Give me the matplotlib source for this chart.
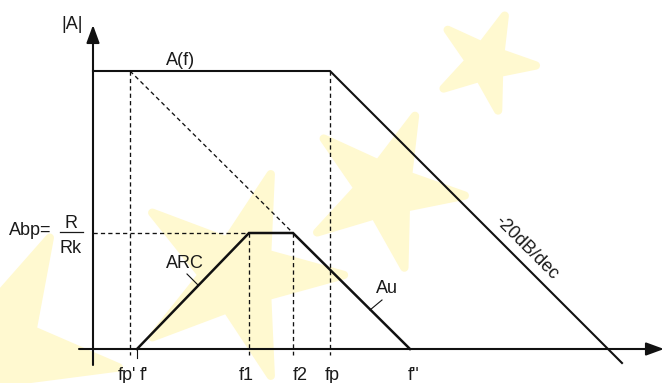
import numpy as np
import matplotlib
matplotlib.use("Agg")
import matplotlib.pyplot as plt
from matplotlib.patches import Polygon

plt.rcParams['font.family'] = ['Liberation Sans', 'DejaVu Sans']

# Characteristic frequencies on the (schematic, log-like) frequency axis
freq_names = ["fp'", "f'", "f1", "f2", "fp", "f''"]
freq_pos = [130, 137, 249, 293, 330, 410]
label_shift = [-3, 7, -3, 7, 2, 4]

# Gain levels
gain_A0 = 278      # open-loop gain |A| in the pass band
gain_bp = 116      # band-pass gain Abp = R/Rk

# Open-loop response A(f): flat up to fp, then -20 dB/dec
af_x = [93, 330, 622]
af_y = [gain_A0, gain_A0, -14]

# Band-pass response: ARC rise from f' to f1, flat to f2, Au fall to f''
bp_x = [137, 249, 293, 410]
bp_y = [0, gain_bp, gain_bp, 0]

# Construction line from fp' along -20 dB/dec to f2
guide_x = [130, 293]
guide_y = [gain_A0, gain_bp]

# Decorative background stars: centre x, centre y, radius, rotation (deg)
star_cx = [486, 385, 238, -5]
star_cy = [287, 159, 74, -1]
star_r = [50, 80, 106, 125]
star_rot = [68, 68, 72, 64]

W, H = 663, 383
fig = plt.figure(figsize=(W / 100, H / 100), dpi=100)
ax = fig.add_axes([0, 0, 1, 1])
ax.set_xlim(0, W)
ax.set_ylim(-34, H - 34)
ax.set_axis_off()


def star(cx, cy, r, rot, inner=0.34):
    ang = np.deg2rad(rot + np.arange(10) * 36.0)
    rad = np.where(np.arange(10) % 2 == 0, r, r * inner)
    return np.column_stack([cx + rad * np.cos(ang), cy + rad * np.sin(ang)])


for cx, cy, r, rot in zip(star_cx, star_cy, star_r, star_rot):
    ax.add_patch(Polygon(star(cx, cy, r, rot), closed=True,
                         facecolor='#fff9d0', edgecolor='#fff9d0', lw=6,
                         joinstyle='round', zorder=0))

k = '#111111'
dash = dict(color=k, lw=0.95, linestyle=(0, (3.2, 2.4)), zorder=2)

# Axes with arrowheads
arrow = dict(arrowstyle='-|>,head_length=0.6,head_width=0.22', color=k,
             lw=1.5, mutation_scale=18, shrinkA=0, shrinkB=0)
ax.annotate('', xy=(664, 0), xytext=(79, 0), arrowprops=arrow,
            annotation_clip=False, zorder=3)
ax.annotate('', xy=(93, 324), xytext=(93, -16), arrowprops=arrow,
            annotation_clip=False, zorder=3)

# Dashed construction lines
fp1, fpr, f1, f2, fp, fpp = freq_pos
for x, top in [(fp1, gain_A0), (f1, gain_bp), (f2, gain_bp), (fp, gain_A0)]:
    ax.plot([x, x], [top, -6], **dash)
ax.plot([93, f1], [gain_bp, gain_bp], **dash)
ax.plot(guide_x, guide_y, **dash)

# Responses
ax.plot(af_x, af_y, color=k, lw=1.5, solid_joinstyle='miter', zorder=4)
ax.plot(bp_x, bp_y, color=k, lw=1.8, solid_joinstyle='miter', zorder=4)
ax.plot([fpr, fpr], [0, -9], color=k, lw=0.8, zorder=4)

# Leader lines
ax.plot([187, 198], [75, 64], color=k, lw=0.8, zorder=4)
ax.plot([382, 370], [49, 39], color=k, lw=0.8, zorder=4)

fs = 13
tc = '#1a1a1a'
txt = dict(fontsize=fs, color=tc, va='baseline', ha='center', zorder=5)

for name, x, dx in zip(freq_names, freq_pos, label_shift):
    ax.text(x + dx, -31, name, **txt)

ax.text(72, 320, '|A|', **txt)
ax.text(181, 284, 'A(f)', **txt)
ax.text(185, 81, 'ARC', **txt)
ax.text(387, 56, 'Au', **txt)
ax.text(9, 114, 'Abp=', fontsize=fs, color=tc, va='baseline', ha='left', zorder=5)
ax.text(71, 121, 'R', **txt)
ax.text(71, 96, 'Rk', **txt)
ax.plot([60, 83], [117, 117], color=tc, lw=0.9, zorder=5)
ax.text(527, 101, '-20dB/dec', fontsize=fs, color=tc, rotation=-45,
        rotation_mode='anchor', ha='center', va='center', zorder=5)

fig.savefig('out.png', dpi=100, facecolor='white')
